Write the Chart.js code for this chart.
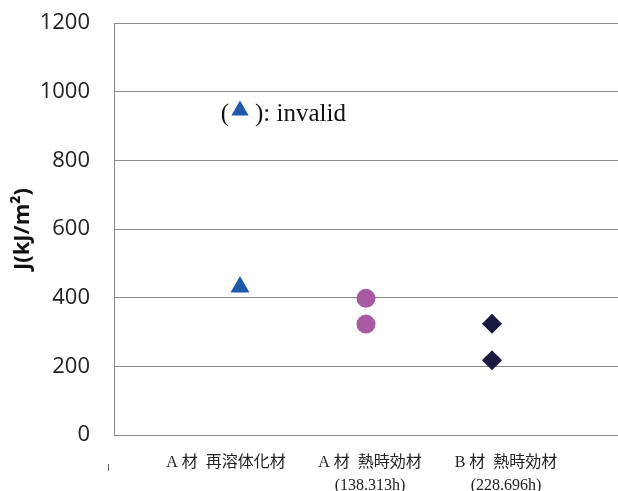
<!DOCTYPE html>
<html>
<head>
<meta charset="utf-8">
<script src="https://cdn.jsdelivr.net/npm/chart.js@4.4.1/dist/chart.umd.min.js"></script>
<style>
html,body{margin:0;padding:0;background:#fff;}
#wrap{width:618px;height:491px;position:relative;}
</style>
</head>
<body>
<div id="wrap"><canvas id="c" width="618" height="491"></canvas></div>
<script>
const categories = [
  ['A 材  再溶体化材'],
  ['A 材  熱時効材', '(138.313h)'],
  ['B 材  熱時効材', '(228.696h)']
];
const categoryPositions = [1, 2, 3];
const seriesA_resolution = [431];
const seriesA_aged = [398, 323];
const seriesB_aged = [324, 218];
const yTicks = [0, 200, 400, 600, 800, 1000, 1200];
const yTitle = 'J(kJ/m²)';
const noteValue = 945;
const noteText = '): invalid';

const serifFont = '"Liberation Serif", "Noto Sans CJK JP", serif';
// horizontal nudge of each category label (in space characters; negative = left)
const labelNudge = [-7, 2, 7];

const notePlugin = {
  id: 'note',
  afterDatasetsDraw(chart) {
    const ctx = chart.ctx;
    const xs = chart.scales.x, ys = chart.scales.y;
    const cx = xs.getPixelForValue(categoryPositions[0]);
    const cy = ys.getPixelForValue(noteValue);
    ctx.save();
    ctx.beginPath();
    ctx.rect(0, ys.getPixelForValue(1000) + 8, chart.width, 60);
    ctx.clip();
    ctx.fillStyle = '#111';
    ctx.font = '25px "Liberation Serif", serif';
    ctx.textBaseline = 'alphabetic';
    ctx.textAlign = 'right';
    ctx.fillText('(', cx - 11, cy + 10);
    ctx.textAlign = 'left';
    ctx.fillText(noteText, cx + 15, cy + 10);
    ctx.restore();
    // triangle glyph of the note
    ctx.save();
    const r = 10;
    ctx.fillStyle = '#1f5aa8';
    ctx.beginPath();
    ctx.moveTo(cx, cy - r);
    ctx.lineTo(cx + r * Math.sin(Math.PI / 3), cy + r / 2);
    ctx.lineTo(cx - r * Math.sin(Math.PI / 3), cy + r / 2);
    ctx.closePath();
    ctx.fill();
    // small stray mark below the axis corner
    ctx.strokeStyle = '#666';
    ctx.lineWidth = 1;
    ctx.beginPath();
    ctx.moveTo(xs.left - 5.5, ys.bottom + 29);
    ctx.lineTo(xs.left - 5.5, ys.bottom + 36);
    ctx.stroke();
    ctx.restore();
  }
};

function nudge(line, n) {
  const pad = ' '.repeat(Math.abs(n));
  return n < 0 ? line + pad : pad + line;
}

new Chart(document.getElementById('c'), {
  type: 'scatter',
  data: {
    datasets: [
      {
        label: 'A材 再溶体化材',
        data: seriesA_resolution.map(v => ({x: categoryPositions[0], y: v})),
        pointStyle: 'triangle', pointRadius: 11, pointHoverRadius: 11,
        backgroundColor: '#1f5aa8', borderColor: '#1f5aa8', borderWidth: 0
      },
      {
        label: 'A材 熱時効材',
        data: seriesA_aged.map(v => ({x: categoryPositions[1], y: v})),
        pointStyle: 'circle', pointRadius: 9.5, pointHoverRadius: 9.5,
        backgroundColor: '#a75aa3', borderColor: '#a75aa3', borderWidth: 0
      },
      {
        label: 'B材 熱時効材',
        data: seriesB_aged.map(v => ({x: categoryPositions[2], y: v})),
        pointStyle: 'rectRot', pointRadius: 10, pointHoverRadius: 10,
        backgroundColor: '#1b1a40', borderColor: '#1b1a40', borderWidth: 0
      }
    ]
  },
  options: {
    responsive: false,
    animation: false,
    events: [],
    layout: {autoPadding: false, padding: {top: 23, right: 0, left: 0, bottom: 0}},
    plugins: {legend: {display: false}, tooltip: {enabled: false}},
    scales: {
      x: {
        type: 'linear', min: 0, max: 4,
        afterBuildTicks(axis) { axis.ticks = [0, ...categoryPositions, 4].map(v => ({value: v})); },
        afterFit(axis) { axis.height = 56; axis.paddingRight = 0; axis.paddingLeft = 0; },
        grid: {display: false, drawTicks: false},
        border: {display: false},
        ticks: {
          autoSkip: false, maxRotation: 0, padding: 17,
          color: '#222',
          font: {family: serifFont, size: 16, lineHeight: 1.4},
          callback(v) {
            const i = categoryPositions.indexOf(v);
            return i >= 0 ? categories[i].map(l => nudge(l, labelNudge[i])) : '';
          }
        }
      },
      y: {
        min: 0, max: 1200,
        afterBuildTicks(axis) { axis.ticks = yTicks.map(v => ({value: v})); },
        afterFit(axis) { axis.width = 114; axis.paddingTop = 0; axis.paddingBottom = 0; },
        grid: {color: '#8a8a8a', lineWidth: 1, drawTicks: false},
        border: {display: true, color: '#8a8a8a', width: 1},
        ticks: {
          padding: 24, color: '#222',
          font: {family: '"Open Sans", sans-serif', size: 22},
          callback(v) { return String(v); }
        },
        title: {
          display: true, text: yTitle, color: '#111',
          font: {family: '"Open Sans", sans-serif', size: 22, weight: 'bold'},
          padding: {top: 10, bottom: 0}
        }
      }
    }
  },
  plugins: [notePlugin]
});
</script>
</body>
</html>
